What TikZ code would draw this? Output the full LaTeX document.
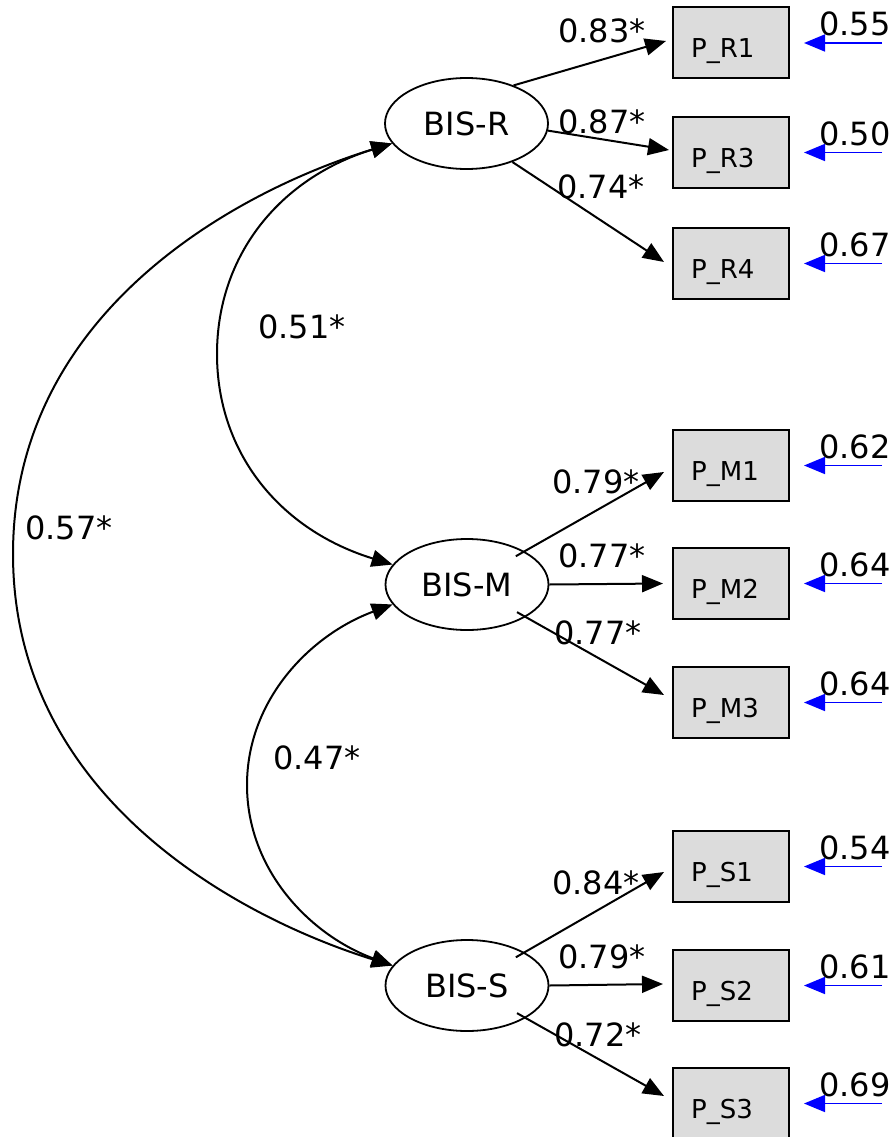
\documentclass[tikz,border=0pt]{standalone}
\usepackage{fontspec}
\setmainfont{DejaVu Sans}
\usetikzlibrary{arrows.meta,shapes.geometric}
\definecolor{boxgray}{RGB}{220,220,220}
\begin{document}
\begin{tikzpicture}[x=1pt,y=-1pt,
  lat/.style={ellipse,draw,line width=1.8pt,minimum width=163pt,minimum height=91pt,inner sep=0pt,font=\fontsize{32}{38}\selectfont},
  obs/.style={rectangle,draw,line width=2pt,fill=boxgray,minimum width=116pt,minimum height=71pt,inner sep=0pt},
  obstext/.style={anchor=base west,inner sep=0pt,font=\fontsize{26}{31}\selectfont},
  num/.style={anchor=base,inner sep=0pt,font=\fontsize{32}{38}\selectfont},
  load/.style={line width=2pt,-{Triangle[length=21pt,width=17pt]}},
  cov/.style={line width=2pt,{Triangle[length=21pt,width=17pt]}-{Triangle[length=21pt,width=17pt]}},
  res/.style={line width=1.6pt,draw=blue,-{Triangle[length=21pt,width=17pt]}}
]
\useasboundingbox (0,0) rectangle (893,1137);

% latent variables
\node[lat] (R) at (466.5,123.5) {BIS-R};
\node[lat] (M) at (467,584.5) {BIS-M};
\node[lat] (S) at (467,985.5) {BIS-S};

% observed variables
\foreach \n/\y/\t in {R1/43/P\_R1, R3/152.5/P\_R3, R4/263.5/P\_R4,
                      M1/465.5/P\_M1, M2/583.5/P\_M2, M3/702.5/P\_M3,
                      S1/866.5/P\_S1, S2/985.5/P\_S2, S3/1103.5/P\_S3}{
  \node[obs] (\n) at (731,\y) {};
  \node[obstext] (t\n) at ([xshift=19pt,yshift=-15pt]\n.west) {\t};
}

% loadings
\draw[load] (R.39) -- ([xshift=-6pt,yshift=2pt]R1.west);
\draw[load] (R.-5) -- ([xshift=-3pt,yshift=2.5pt]R3.west);
\draw[load] (R.-40) -- ([xshift=-8pt,yshift=1.5pt]R4.west);
\draw[load,shorten <=-10pt] (M.30) -- ([xshift=-8pt,yshift=-6.5pt]M1.west);
\draw[load] (M.0) -- ([xshift=-9pt]M2.west);
\draw[load,shorten <=-10pt] (M.-29) -- ([xshift=-8pt,yshift=7.5pt]M3.west);
\draw[load,shorten <=-10pt] (S.30) -- ([xshift=-8pt,yshift=-5.5pt]S1.west);
\draw[load] (S.0) -- ([xshift=-9pt,yshift=1.5pt]S2.west);
\draw[load,shorten <=-10pt] (S.-29) -- ([xshift=-8pt,yshift=7.5pt]S3.west);

% loading labels
\node[num] (lR1) at (602,43) {0.83*};
\node[num] (lR3) at (602,133) {0.87*};
\node[num] (lR4) at (601,198) {0.74*};
\node[num] (lM1) at (596,493) {0.79*};
\node[num] (lM2) at (602,567) {0.77*};
\node[num] (lM3) at (598,644) {0.77*};
\node[num] (lS1) at (596,894) {0.84*};
\node[num] (lS2) at (602,968) {0.79*};
\node[num] (lS3) at (598,1046) {0.72*};

% covariances
\draw[cov] (R.195) .. controls (240,190) and (13,310) .. (13,554)
                   .. controls (13,798) and (240,918) .. (S.165);
\draw[cov] (R.195) .. controls (280,178) and (217,255) .. (217,354)
                   .. controls (217,453) and (280,530) .. (M.165);
\draw[cov] (M.195) .. controls (310,635) and (247,700) .. (247,785)
                   .. controls (247,870) and (310,935) .. (S.165);
\node[num] (cRM) at (302,338) {0.51*};
\node[num] (cRS) at (69,539) {0.57*};
\node[num] (cMS) at (317,769) {0.47*};

% residuals
\foreach \n/\v in {R1/0.55, R3/0.50, R4/0.67, M1/0.62, M2/0.64, M3/0.64,
                   S1/0.54, S2/0.61, S3/0.69}{
  \coordinate (e\n) at ([xshift=92pt]\n.east);
  \draw[res] (e\n) -- ([xshift=14pt]\n.east);
  \node[num] (v\n) at ([xshift=65pt,yshift=7pt]\n.east) {\v};
}
\end{tikzpicture}
\end{document}
